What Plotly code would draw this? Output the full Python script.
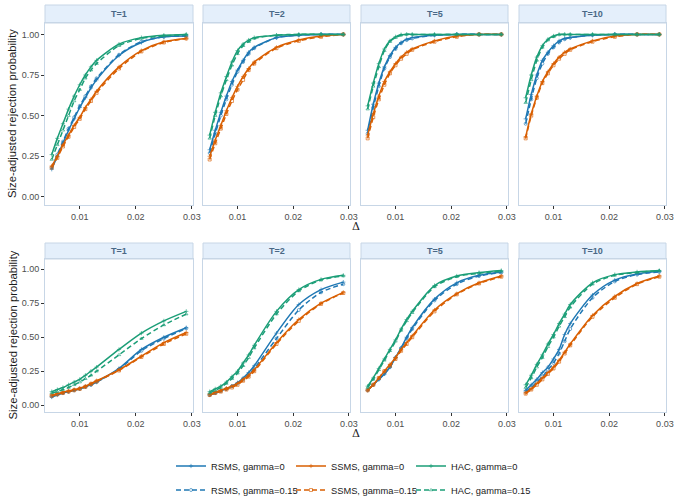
import plotly.graph_objects as go

OFF = 0
W, H = 676, 497

delta = [0.005, 0.006, 0.007, 0.008, 0.009, 0.010, 0.011, 0.012, 0.013, 0.017, 0.021, 0.025, 0.029]
panel_titles = ["T=1", "T=2", "T=5", "T=10"]
methods = ["RSMS", "SSMS", "HAC"]
gammas = ["0", "0.15"]
x_tick_vals = [0.01, 0.02, 0.03]
y_tick_vals = [0.0, 0.25, 0.5, 0.75, 1.0]

# ---- top row ----
top_T1_RSMS_0 = [0.17, 0.25, 0.33, 0.41, 0.48, 0.55, 0.61, 0.67, 0.72, 0.87, 0.95, 0.985, 0.99]
top_T1_RSMS_15 = [0.18, 0.26, 0.34, 0.42, 0.49, 0.56, 0.62, 0.68, 0.73, 0.875, 0.955, 0.985, 0.99]
top_T1_SSMS_0 = [0.19, 0.25, 0.32, 0.38, 0.44, 0.49, 0.55, 0.60, 0.65, 0.80, 0.90, 0.955, 0.975]
top_T1_SSMS_15 = [0.18, 0.24, 0.31, 0.37, 0.43, 0.48, 0.54, 0.59, 0.64, 0.79, 0.895, 0.95, 0.975]
top_T1_HAC_0 = [0.26, 0.36, 0.45, 0.54, 0.62, 0.69, 0.75, 0.80, 0.84, 0.94, 0.98, 0.995, 1.0]
top_T1_HAC_15 = [0.23, 0.32, 0.41, 0.50, 0.59, 0.66, 0.73, 0.78, 0.82, 0.93, 0.975, 0.99, 1.0]

top_T2_RSMS_0 = [0.29, 0.41, 0.52, 0.62, 0.71, 0.78, 0.84, 0.89, 0.92, 0.98, 0.995, 1.0, 1.0]
top_T2_RSMS_15 = [0.27, 0.39, 0.50, 0.60, 0.69, 0.77, 0.83, 0.88, 0.915, 0.98, 0.995, 1.0, 1.0]
top_T2_SSMS_0 = [0.25, 0.35, 0.44, 0.53, 0.61, 0.68, 0.74, 0.79, 0.83, 0.92, 0.965, 0.99, 1.0]
top_T2_SSMS_15 = [0.23, 0.33, 0.42, 0.51, 0.59, 0.66, 0.72, 0.78, 0.82, 0.915, 0.96, 0.985, 1.0]
top_T2_HAC_0 = [0.38, 0.52, 0.64, 0.74, 0.83, 0.90, 0.94, 0.965, 0.98, 0.995, 1.0, 1.0, 1.0]
top_T2_HAC_15 = [0.36, 0.50, 0.62, 0.72, 0.81, 0.88, 0.93, 0.955, 0.975, 0.995, 1.0, 1.0, 1.0]

top_T5_RSMS_0 = [0.41, 0.57, 0.70, 0.80, 0.87, 0.92, 0.95, 0.97, 0.98, 0.995, 1.0, 1.0, 1.0]
top_T5_RSMS_15 = [0.39, 0.55, 0.68, 0.79, 0.86, 0.91, 0.945, 0.965, 0.975, 0.995, 1.0, 1.0, 1.0]
top_T5_SSMS_0 = [0.38, 0.51, 0.62, 0.71, 0.77, 0.82, 0.86, 0.89, 0.91, 0.96, 0.99, 1.0, 1.0]
top_T5_SSMS_15 = [0.36, 0.49, 0.60, 0.69, 0.76, 0.81, 0.85, 0.88, 0.905, 0.955, 0.985, 1.0, 1.0]
top_T5_HAC_0 = [0.56, 0.70, 0.82, 0.91, 0.96, 0.985, 0.998, 1.0, 1.0, 1.0, 1.0, 1.0, 1.0]
top_T5_HAC_15 = [0.54, 0.68, 0.80, 0.90, 0.955, 0.98, 0.995, 1.0, 1.0, 1.0, 1.0, 1.0, 1.0]

top_T10_RSMS_0 = [0.48, 0.63, 0.75, 0.84, 0.89, 0.93, 0.96, 0.975, 0.98, 0.995, 1.0, 1.0, 1.0]
top_T10_RSMS_15 = [0.45, 0.60, 0.73, 0.82, 0.88, 0.92, 0.95, 0.97, 0.98, 0.995, 1.0, 1.0, 1.0]
top_T10_SSMS_0 = [0.37, 0.51, 0.62, 0.71, 0.77, 0.82, 0.86, 0.89, 0.91, 0.96, 0.99, 1.0, 1.0]
top_T10_SSMS_15 = [0.36, 0.50, 0.61, 0.70, 0.76, 0.81, 0.85, 0.88, 0.905, 0.955, 0.985, 1.0, 1.0]
top_T10_HAC_0 = [0.61, 0.75, 0.86, 0.93, 0.97, 0.99, 1.0, 1.0, 1.0, 1.0, 1.0, 1.0, 1.0]
top_T10_HAC_15 = [0.58, 0.72, 0.84, 0.92, 0.965, 0.985, 0.998, 1.0, 1.0, 1.0, 1.0, 1.0, 1.0]

# ---- bottom row ----
bot_T1_RSMS_0 = [0.06, 0.075, 0.09, 0.10, 0.11, 0.12, 0.135, 0.15, 0.17, 0.27, 0.41, 0.50, 0.57]
bot_T1_RSMS_15 = [0.065, 0.08, 0.09, 0.10, 0.11, 0.12, 0.135, 0.15, 0.17, 0.265, 0.40, 0.49, 0.565]
bot_T1_SSMS_0 = [0.075, 0.085, 0.095, 0.105, 0.115, 0.125, 0.14, 0.16, 0.18, 0.26, 0.36, 0.46, 0.535]
bot_T1_SSMS_15 = [0.07, 0.08, 0.09, 0.10, 0.11, 0.12, 0.135, 0.155, 0.175, 0.255, 0.355, 0.45, 0.525]
bot_T1_HAC_0 = [0.10, 0.115, 0.13, 0.15, 0.17, 0.19, 0.22, 0.25, 0.28, 0.41, 0.53, 0.62, 0.69]
bot_T1_HAC_15 = [0.09, 0.10, 0.115, 0.13, 0.15, 0.17, 0.195, 0.22, 0.25, 0.37, 0.49, 0.59, 0.67]

bot_T2_RSMS_0 = [0.075, 0.09, 0.105, 0.12, 0.14, 0.165, 0.20, 0.24, 0.29, 0.53, 0.74, 0.85, 0.905]
bot_T2_RSMS_15 = [0.075, 0.09, 0.105, 0.12, 0.14, 0.16, 0.19, 0.225, 0.27, 0.49, 0.70, 0.83, 0.89]
bot_T2_SSMS_0 = [0.08, 0.095, 0.11, 0.125, 0.14, 0.16, 0.19, 0.22, 0.26, 0.46, 0.63, 0.75, 0.83]
bot_T2_SSMS_15 = [0.075, 0.09, 0.10, 0.115, 0.13, 0.15, 0.18, 0.21, 0.25, 0.45, 0.62, 0.745, 0.825]
bot_T2_HAC_0 = [0.10, 0.12, 0.14, 0.17, 0.21, 0.25, 0.31, 0.37, 0.44, 0.69, 0.85, 0.925, 0.955]
bot_T2_HAC_15 = [0.09, 0.11, 0.13, 0.16, 0.195, 0.235, 0.29, 0.35, 0.42, 0.67, 0.84, 0.92, 0.95]

bot_T5_RSMS_0 = [0.11, 0.15, 0.19, 0.23, 0.28, 0.35, 0.42, 0.50, 0.57, 0.78, 0.90, 0.955, 0.98]
bot_T5_RSMS_15 = [0.11, 0.15, 0.19, 0.23, 0.28, 0.35, 0.42, 0.49, 0.56, 0.77, 0.89, 0.95, 0.975]
bot_T5_SSMS_0 = [0.11, 0.15, 0.20, 0.25, 0.30, 0.35, 0.41, 0.46, 0.51, 0.70, 0.82, 0.90, 0.95]
bot_T5_SSMS_15 = [0.11, 0.15, 0.20, 0.25, 0.29, 0.34, 0.40, 0.45, 0.50, 0.69, 0.815, 0.895, 0.945]
bot_T5_HAC_0 = [0.14, 0.20, 0.27, 0.34, 0.41, 0.48, 0.56, 0.63, 0.69, 0.88, 0.95, 0.975, 0.99]
bot_T5_HAC_15 = [0.13, 0.19, 0.26, 0.33, 0.40, 0.47, 0.55, 0.62, 0.68, 0.87, 0.945, 0.97, 0.985]

bot_T10_RSMS_0 = [0.11, 0.15, 0.19, 0.24, 0.28, 0.34, 0.41, 0.52, 0.60, 0.81, 0.92, 0.965, 0.985]
bot_T10_RSMS_15 = [0.10, 0.13, 0.17, 0.21, 0.26, 0.31, 0.38, 0.47, 0.56, 0.79, 0.91, 0.96, 0.98]
bot_T10_SSMS_0 = [0.09, 0.12, 0.16, 0.20, 0.24, 0.28, 0.33, 0.39, 0.45, 0.66, 0.80, 0.895, 0.95]
bot_T10_SSMS_15 = [0.085, 0.115, 0.15, 0.19, 0.23, 0.27, 0.32, 0.38, 0.44, 0.65, 0.79, 0.89, 0.945]
bot_T10_HAC_0 = [0.15, 0.22, 0.30, 0.37, 0.45, 0.52, 0.60, 0.67, 0.74, 0.90, 0.96, 0.98, 0.99]
bot_T10_HAC_15 = [0.13, 0.20, 0.28, 0.35, 0.43, 0.50, 0.58, 0.65, 0.72, 0.89, 0.955, 0.975, 0.99]

data = {
    ("top", 0): {("RSMS", "0"): top_T1_RSMS_0, ("RSMS", "0.15"): top_T1_RSMS_15,
                 ("SSMS", "0"): top_T1_SSMS_0, ("SSMS", "0.15"): top_T1_SSMS_15,
                 ("HAC", "0"): top_T1_HAC_0, ("HAC", "0.15"): top_T1_HAC_15},
    ("top", 1): {("RSMS", "0"): top_T2_RSMS_0, ("RSMS", "0.15"): top_T2_RSMS_15,
                 ("SSMS", "0"): top_T2_SSMS_0, ("SSMS", "0.15"): top_T2_SSMS_15,
                 ("HAC", "0"): top_T2_HAC_0, ("HAC", "0.15"): top_T2_HAC_15},
    ("top", 2): {("RSMS", "0"): top_T5_RSMS_0, ("RSMS", "0.15"): top_T5_RSMS_15,
                 ("SSMS", "0"): top_T5_SSMS_0, ("SSMS", "0.15"): top_T5_SSMS_15,
                 ("HAC", "0"): top_T5_HAC_0, ("HAC", "0.15"): top_T5_HAC_15},
    ("top", 3): {("RSMS", "0"): top_T10_RSMS_0, ("RSMS", "0.15"): top_T10_RSMS_15,
                 ("SSMS", "0"): top_T10_SSMS_0, ("SSMS", "0.15"): top_T10_SSMS_15,
                 ("HAC", "0"): top_T10_HAC_0, ("HAC", "0.15"): top_T10_HAC_15},
    ("bot", 0): {("RSMS", "0"): bot_T1_RSMS_0, ("RSMS", "0.15"): bot_T1_RSMS_15,
                 ("SSMS", "0"): bot_T1_SSMS_0, ("SSMS", "0.15"): bot_T1_SSMS_15,
                 ("HAC", "0"): bot_T1_HAC_0, ("HAC", "0.15"): bot_T1_HAC_15},
    ("bot", 1): {("RSMS", "0"): bot_T2_RSMS_0, ("RSMS", "0.15"): bot_T2_RSMS_15,
                 ("SSMS", "0"): bot_T2_SSMS_0, ("SSMS", "0.15"): bot_T2_SSMS_15,
                 ("HAC", "0"): bot_T2_HAC_0, ("HAC", "0.15"): bot_T2_HAC_15},
    ("bot", 2): {("RSMS", "0"): bot_T5_RSMS_0, ("RSMS", "0.15"): bot_T5_RSMS_15,
                 ("SSMS", "0"): bot_T5_SSMS_0, ("SSMS", "0.15"): bot_T5_SSMS_15,
                 ("HAC", "0"): bot_T5_HAC_0, ("HAC", "0.15"): bot_T5_HAC_15},
    ("bot", 3): {("RSMS", "0"): bot_T10_RSMS_0, ("RSMS", "0.15"): bot_T10_RSMS_15,
                 ("SSMS", "0"): bot_T10_SSMS_0, ("SSMS", "0.15"): bot_T10_SSMS_15,
                 ("HAC", "0"): bot_T10_HAC_0, ("HAC", "0.15"): bot_T10_HAC_15},
}

# ---- styling ----
colors = {"RSMS": "#1F78B4", "SSMS": "#D95F02", "HAC": "#1B9E77"}
open_symbols = {"RSMS": "circle-open", "SSMS": "square-open", "HAC": "triangle-up-open"}
FONT = "Liberation Sans, Arial, Helvetica, sans-serif"
BORDER = "#C7D6E6"
STRIP_FILL = "#E4EFFB"
STRIP_TEXT = "#4A6886"

def px_x(p):
    return (p - OFF) / W

def px_y(p):
    return 1 - (p - OFF) / H

col_px = [(45, 193), (203, 350), (361, 508), (519, 666)]
rows = {
    "top": {"plot": (23, 205), "strip": (5, 23), "yrange": [-0.05, 1.07], "delta_y": 226},
    "bot": {"plot": (259, 412), "strip": (243, 259), "yrange": [-0.05, 1.075], "delta_y": 433},
}

fig = go.Figure()
layout = {}
shapes = []
annotations = []

idx = 0
for r_i, rname in enumerate(["top", "bot"]):
    rinfo = rows[rname]
    for c in range(4):
        idx += 1
        xa = "x" if idx == 1 else f"x{idx}"
        ya = "y" if idx == 1 else f"y{idx}"
        xkey = "xaxis" if idx == 1 else f"xaxis{idx}"
        ykey = "yaxis" if idx == 1 else f"yaxis{idx}"
        x0, x1 = col_px[c]
        p0, p1 = rinfo["plot"]
        layout[xkey] = dict(
            domain=[px_x(x0), px_x(x1)], anchor=ya, range=[0.0038, 0.0302],
            tickvals=x_tick_vals, tickformat=".2f", ticks="outside", ticklen=3,
            tickcolor="#333333", tickfont=dict(size=9, color="#4D4D4D", family=FONT),
            showline=True, linecolor=BORDER, linewidth=1, mirror=True,
            showgrid=False, zeroline=False, fixedrange=True,
            ticklabeloverflow="allow",
        )
        layout[ykey] = dict(
            domain=[px_y(p1), px_y(p0)], anchor=xa, range=rinfo["yrange"],
            tickvals=y_tick_vals, tickformat=".2f",
            ticks="outside" if c == 0 else "", ticklen=3, tickcolor="#333333",
            showticklabels=(c == 0),
            tickfont=dict(size=9, color="#4D4D4D", family=FONT),
            showline=True, linecolor=BORDER, linewidth=1, mirror=True,
            showgrid=False, zeroline=False, fixedrange=True,
        )
        s0, s1 = rinfo["strip"]
        shapes.append(dict(type="rect", xref="paper", yref="paper",
                           x0=px_x(x0), x1=px_x(x1), y0=px_y(s1), y1=px_y(s0),
                           fillcolor=STRIP_FILL, line=dict(color=BORDER, width=1), layer="below"))
        annotations.append(dict(text=f"<b>{panel_titles[c]}</b>", xref="paper", yref="paper",
                                x=px_x((x0 + x1) / 2), y=px_y((s0 + s1) / 2),
                                xanchor="center", yanchor="middle", showarrow=False,
                                font=dict(size=9, color=STRIP_TEXT, family=FONT)))

        for m in methods:
            for g in gammas:
                yvals = data[(rname, c)][(m, g)]
                solid = g == "0"
                fig.add_trace(go.Scatter(
                    x=delta, y=yvals, xaxis=xa, yaxis=ya,
                    mode="lines+markers",
                    name=f"{m}, gamma={g}",
                    legend="legend" if solid else "legend2",
                    showlegend=(idx == 1),
                    line=dict(color=colors[m], width=1.5, dash="solid" if solid else "5px,3px",
                              shape="spline", smoothing=0.8),
                    marker=dict(symbol="cross-thin" if solid else open_symbols[m],
                                size=3, color=colors[m], opacity=0.8,
                                line=dict(color=colors[m], width=0.8)),
                ))
    # y title and delta label per row
    p0, p1 = rinfo["plot"]
    annotations.append(dict(text="Size-adjusted rejection probability", xref="paper", yref="paper",
                            x=px_x(12), y=px_y((p0 + p1) / 2), xanchor="center", yanchor="middle",
                            textangle=-90, showarrow=False,
                            font=dict(size=11.3, color="#1A1A1A", family=FONT)))
    annotations.append(dict(text="Δ", xref="paper", yref="paper",
                            x=px_x(355.5), y=px_y(rinfo["delta_y"]), xanchor="center", yanchor="middle",
                            showarrow=False,
                            font=dict(size=11, color="#1A1A1A", family="DejaVu Serif, Liberation Serif, serif")))

legend_common = dict(orientation="h", xanchor="left", yanchor="middle", entrywidth=75,
                     bgcolor="rgba(0,0,0,0)", traceorder="normal",
                     font=dict(size=9.3, color="#1A1A1A", family=FONT))

fig.update_layout(
    width=W, height=H,
    margin=dict(l=0, r=0, t=0, b=0, autoexpand=False),
    paper_bgcolor="white", plot_bgcolor="white",
    shapes=shapes, annotations=annotations,
    legend=dict(x=px_x(171), y=px_y(466), **legend_common),
    legend2=dict(x=px_x(171), y=px_y(490), **legend_common),
    **layout,
)

fig.write_html(
    "out.html",
    config={"displayModeBar": False},
    post_script="document.body.style.margin='0';document.body.style.overflow='hidden';",
)
